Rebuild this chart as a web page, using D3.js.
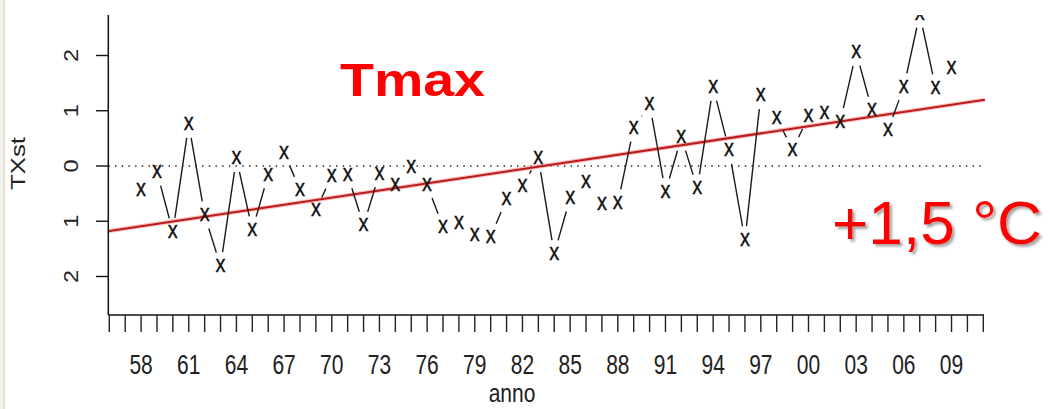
<!DOCTYPE html>
<html>
<head>
<meta charset="utf-8">
<script src="https://cdn.jsdelivr.net/npm/d3@7"></script>
<style>
  html, body { margin: 0; padding: 0; background: #fff; }
  svg { display: block; }
  text { font-family: "Liberation Sans", Arial, Helvetica, sans-serif; }
</style>
</head>
<body>
<svg id="chart" width="1050" height="409"></svg>
<script>
// ---- data ----
const years = [1958,1959,1960,1961,1962,1963,1964,1965,1966,1967,1968,1969,1970,1971,1972,1973,1974,1975,1976,1977,1978,1979,1980,1981,1982,1983,1984,1985,1986,1987,1988,1989,1990,1991,1992,1993,1994,1995,1996,1997,1998,1999,2000,2001,2002,2003,2004,2005,2006,2007,2008,2009];
const txst = [-0.43,-0.11,-1.19,0.76,-0.89,-1.81,0.14,-1.16,-0.16,0.24,-0.43,-0.80,-0.18,-0.16,-1.07,-0.14,-0.34,-0.02,-0.34,-1.10,-1.03,-1.25,-1.28,-0.60,-0.36,0.14,-1.59,-0.58,-0.29,-0.69,-0.67,0.69,1.12,-0.47,0.52,-0.40,1.43,0.29,-1.34,1.28,0.87,0.29,0.90,0.96,0.80,2.06,1.01,0.65,1.43,2.75,1.41,1.77];
const xTickYears = [1956,1957,1958,1959,1960,1961,1962,1963,1964,1965,1966,1967,1968,1969,1970,1971,1972,1973,1974,1975,1976,1977,1978,1979,1980,1981,1982,1983,1984,1985,1986,1987,1988,1989,1990,1991,1992,1993,1994,1995,1996,1997,1998,1999,2000,2001,2002,2003,2004,2005,2006,2007,2008,2009,2010,2011];
const xLabelYears = [1958,1961,1964,1967,1970,1973,1976,1979,1982,1985,1988,1991,1994,1997,2000,2003,2006,2009];
const xLabels = ["58","61","64","67","70","73","76","79","82","85","88","91","94","97","00","03","06","09"];
const yTicks = [-2,-1,0,1,2];
const yLabels = ["2","1","0","1","2"];
const trendStartYear = 1956, trendStartValue = -1.176, trendSlope = 0.0431;
const titleText = "Tmax";
const changeText = "+1,5 °C";
const xTitle = "anno", yTitle = "TXst";

// ---- scales ----
const svg = d3.select("#chart");
const x = d3.scaleLinear().domain([1956, 2011]).range([109.3, 983.3]);
const y = d3.scaleLinear().domain([-2, 2]).range([276.5, 55.5]);
const plotTop = 15, plotBottom = 315, plotLeft = 108.3, plotRight = 985;

const defs = svg.append("defs");
defs.append("clipPath").attr("id","plotclip")
  .append("rect").attr("x", plotLeft).attr("y", plotTop).attr("width", plotRight - plotLeft).attr("height", plotBottom - plotTop);
const sh = defs.append("filter").attr("id","shadow").attr("x","-5%").attr("y","-10%").attr("width","115%").attr("height","130%");
sh.append("feDropShadow").attr("dx",2.5).attr("dy",2.5).attr("stdDeviation",0.8)
  .attr("flood-color","#808080").attr("flood-opacity",0.7);

// frame strip on the left
svg.append("rect").attr("x",0).attr("y",0).attr("width",5).attr("height",409).attr("fill","#f3f1ec");
svg.append("line").attr("x1",4).attr("x2",4).attr("y1",0).attr("y2",409).attr("stroke","#d6d2c8").attr("stroke-width",1.2);

const plot = svg.append("g").attr("clip-path","url(#plotclip)");

// dotted zero line
plot.append("line")
  .attr("x1", plotLeft).attr("x2", plotRight)
  .attr("y1", y(0)).attr("y2", y(0))
  .attr("stroke", "#222").attr("stroke-width", 1.4)
  .attr("stroke-dasharray", "1.4,5.3");

// trend line
const tEnd = 2011.1;
const trendLine = [[trendStartYear - 0.1, trendStartValue - 0.1*trendSlope],[tEnd, trendStartValue + (tEnd - trendStartYear)*trendSlope]];
plot.append("line")
  .attr("x1", x(trendLine[0][0])).attr("y1", y(trendLine[0][1]))
  .attr("x2", x(trendLine[1][0])).attr("y2", y(trendLine[1][1]))
  .attr("stroke", "#ff8c8c").attr("stroke-opacity", 0.6).attr("stroke-width", 4.2);
plot.append("line")
  .attr("x1", x(trendLine[0][0])).attr("y1", y(trendLine[0][1]))
  .attr("x2", x(trendLine[1][0])).attr("y2", y(trendLine[1][1]))
  .attr("stroke", "#b81c1c").attr("stroke-width", 2);

// type="b" lines with gaps around points
const pts = years.map((yr, i) => [x(yr), y(txst[i])]);
const gap = 14;
for (let i = 0; i < pts.length - 1; i++) {
  const [x0, y0] = pts[i], [x1, y1] = pts[i+1];
  const dx = x1 - x0, dy = y1 - y0, L = Math.hypot(dx, dy);
  if (L <= 2*gap) continue;
  const ux = dx / L, uy = dy / L;
  plot.append("line")
    .attr("x1", x0 + ux*gap).attr("y1", y0 + uy*gap)
    .attr("x2", x1 - ux*gap).attr("y2", y1 - uy*gap)
    .attr("stroke", "#1a1a1a").attr("stroke-width", 1.4);
}

// points as "x"
plot.selectAll("text.pt").data(years).enter().append("text")
  .attr("class","pt")
  .attr("transform", (d,i) => `translate(${x(d)},${y(txst[i])}) scale(1,1.15)`)
  .attr("y", 5.2)
  .attr("text-anchor","middle")
  .attr("font-size", 20)
  .attr("fill", "#111")
  .attr("stroke", "#111").attr("stroke-width", 0.3)
  .text("x");

// axes lines
svg.append("line").attr("x1", plotLeft).attr("x2", plotLeft).attr("y1", plotTop).attr("y2", plotBottom)
  .attr("stroke","#111").attr("stroke-width",1.5);
svg.append("line").attr("x1", plotLeft).attr("x2", x(2011)+0.7).attr("y1", plotBottom).attr("y2", plotBottom)
  .attr("stroke","#111").attr("stroke-width",1.5);

// y ticks & labels
svg.selectAll("line.yt").data(yTicks).enter().append("line")
  .attr("x1", 96).attr("x2", plotLeft).attr("y1", d => y(d)).attr("y2", d => y(d))
  .attr("stroke","#111").attr("stroke-width",1.4);
svg.selectAll("text.yl").data(yTicks).enter().append("text")
  .attr("transform", d => `translate(77.5,${y(d)}) rotate(-90) scale(1.12,1)`)
  .attr("text-anchor","middle")
  .attr("font-size", 21)
  .attr("fill","#222")
  .text((d,i) => yLabels[i]);

// x ticks & labels
svg.selectAll("line.xt").data(xTickYears).enter().append("line")
  .attr("x1", d => x(d)).attr("x2", d => x(d)).attr("y1", plotBottom).attr("y2", 332)
  .attr("stroke","#222").attr("stroke-width",1.4);
svg.selectAll("text.xl").data(xLabelYears).enter().append("text")
  .attr("transform", d => `translate(${x(d)},374) scale(1,1.28)`)
  .attr("text-anchor","middle")
  .attr("font-size", 21)
  .attr("fill","#222")
  .text((d,i) => xLabels[i]);

// axis titles
svg.append("text")
  .attr("transform","translate(512,402) scale(1,1.2)")
  .attr("text-anchor","middle").attr("font-size",21).attr("fill","#222")
  .text(xTitle);
svg.append("text")
  .attr("transform","translate(25,163.5) rotate(-90) scale(1.22,1)")
  .attr("text-anchor","middle").attr("font-size",21).attr("fill","#222")
  .text(yTitle);

// overlay texts
svg.append("text")
  .attr("x", 340).attr("y", 96)
  .attr("font-size", 46).attr("font-weight","bold").attr("fill","#ff0000")
  .attr("textLength", 145).attr("lengthAdjust","spacingAndGlyphs")
  .text(titleText);
svg.append("text")
  .attr("x", 832).attr("y", 244)
  .attr("font-size", 61).attr("fill","#ff0000")
  .attr("filter","url(#shadow)")
  .attr("textLength", 210).attr("lengthAdjust","spacingAndGlyphs")
  .text(changeText);
</script>
</body>
</html>
